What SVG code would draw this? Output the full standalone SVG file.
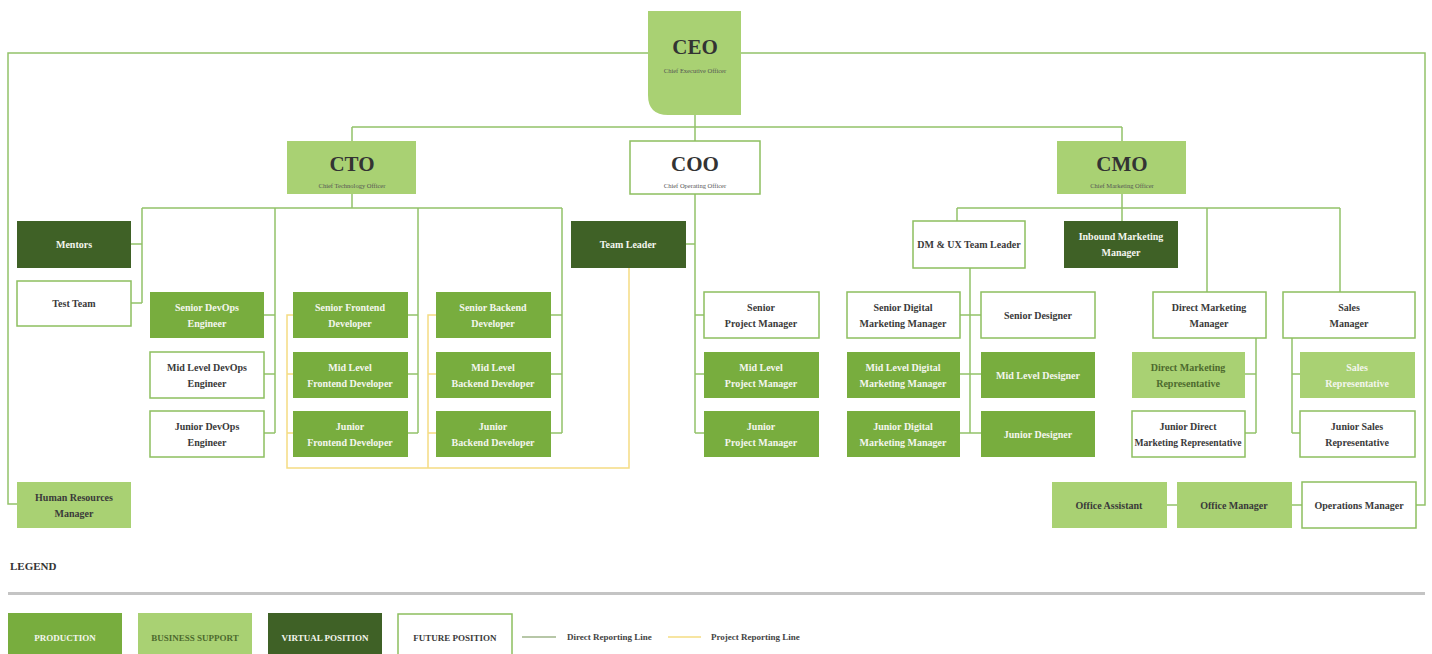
<svg xmlns="http://www.w3.org/2000/svg" width="1432" height="654" viewBox="0 0 1432 654">
<defs>
<style>
text{font-family:"Liberation Serif","DejaVu Serif",serif;text-anchor:middle;font-weight:bold;font-size:10px}
.prod{fill:#78ad3e}
.biz{fill:#a9d173}
.virt{fill:#3f6126}
.fut{fill:#ffffff;stroke:#8dbf5f;stroke-width:1.5}
.w{fill:#f4f6ee}
.d{fill:#3a3a3a}
.dg{fill:#4d6a2e}
.big{font-size:21px;fill:#333}
.sub{font-size:6.5px;font-weight:normal;fill:#555}
.dir{fill:none;stroke:#93c26a;stroke-width:1.5}
.proj{fill:none;stroke:#f5dc82;stroke-width:1.5}
.leg{font-size:9px}
.legl{font-size:9px;text-anchor:start;fill:#444}
</style>
</defs>
<rect width="1432" height="654" fill="#ffffff"/>

<g id="connectors">
<path class="dir" d="M648,53 H8 V504 H17"/>
<path class="dir" d="M741,53 H1425 V505 H1416"/>
<path class="dir" d="M695,115 V141 M352,127 H1122 M352,127 V141 M1122,127 V141"/>
<path class="dir" d="M352,194 V208 M142,208 H562 M142,208 V303 M131,244 H142 M131,303 H142"/>
<path class="dir" d="M275,208 V433 M264,315 H275 M264,374 H275 M264,433 H275"/>
<path class="dir" d="M418,208 V433 M408,315 H418 M408,374 H418 M408,433 H418"/>
<path class="dir" d="M562,208 V433 M551,315 H562 M551,374 H562 M551,433 H562"/>
<path class="dir" d="M695,194 V433 M686,244 H695 M695,315 H704 M695,374 H704 M695,433 H704"/>
<path class="dir" d="M1122,194 V221 M957,208 H1340 M957,208 V221 M1207,208 V292 M1340,208 V292"/>
<path class="dir" d="M970,268 V433 M960,315 H981 M960,374 H981 M960,433 H981"/>
<path class="dir" d="M1256,338 V433 M1245,374 H1256 M1245,433 H1256"/>
<path class="dir" d="M1292,338 V433 M1292,374 H1300 M1292,433 H1300"/>
<path class="dir" d="M1167,505 H1177 M1292,505 H1302"/>
<path class="proj" d="M293,315 H287 V468 H629 V268 M287,374 H293 M287,433 H293"/>
<path class="proj" d="M436,315 H428 V468 M428,374 H436 M428,433 H436"/>
</g>

<g id="ceo">
<path class="biz" d="M648,11 H741 V115 H668 Q648,115 648,95 Z"/>
<text class="big" x="695" y="54">CEO</text>
<text class="sub" x="695" y="73">Chief Executive Officer</text>
</g>
<g id="cto">
<rect class="biz" x="287" y="141" width="129" height="53"/>
<text class="big" x="352" y="171">CTO</text>
<text class="sub" x="352" y="188">Chief Technology Officer</text>
</g>
<g id="coo">
<rect class="fut" x="630" y="141" width="130" height="53"/>
<text class="big" x="695" y="171">COO</text>
<text class="sub" x="695" y="188">Chief Operating Officer</text>
</g>
<g id="cmo">
<rect class="biz" x="1057" y="141" width="129" height="53"/>
<text class="big" x="1122" y="171">CMO</text>
<text class="sub" x="1122" y="188">Chief Marketing Officer</text>
</g>

<g id="mentors"><rect class="virt" x="17" y="221" width="114" height="47"/><text class="w" x="74" y="248">Mentors</text></g>
<g id="test-team"><rect class="fut" x="17" y="281" width="114" height="45"/><text class="d" x="74" y="307">Test Team</text></g>

<g id="senior-devops"><rect class="prod" x="150" y="292" width="114" height="46"/><text class="w" x="207" y="311">Senior DevOps</text><text class="w" x="207" y="327">Engineer</text></g>
<g id="mid-devops"><rect class="fut" x="150" y="352" width="114" height="46"/><text class="d" x="207" y="371">Mid Level DevOps</text><text class="d" x="207" y="387">Engineer</text></g>
<g id="junior-devops"><rect class="fut" x="150" y="411" width="114" height="46"/><text class="d" x="207" y="430">Junior DevOps</text><text class="d" x="207" y="446">Engineer</text></g>

<g id="senior-frontend"><rect class="prod" x="293" y="292" width="115" height="46"/><text class="w" x="350" y="311">Senior Frontend</text><text class="w" x="350" y="327">Developer</text></g>
<g id="mid-frontend"><rect class="prod" x="293" y="352" width="115" height="46"/><text class="w" x="350" y="371">Mid Level</text><text class="w" x="350" y="387">Frontend Developer</text></g>
<g id="junior-frontend"><rect class="prod" x="293" y="411" width="115" height="46"/><text class="w" x="350" y="430">Junior</text><text class="w" x="350" y="446">Frontend Developer</text></g>

<g id="senior-backend"><rect class="prod" x="436" y="292" width="115" height="46"/><text class="w" x="493" y="311">Senior Backend</text><text class="w" x="493" y="327">Developer</text></g>
<g id="mid-backend"><rect class="prod" x="436" y="352" width="115" height="46"/><text class="w" x="493" y="371">Mid Level</text><text class="w" x="493" y="387">Backend Developer</text></g>
<g id="junior-backend"><rect class="prod" x="436" y="411" width="115" height="46"/><text class="w" x="493" y="430">Junior</text><text class="w" x="493" y="446">Backend Developer</text></g>

<g id="team-leader"><rect class="virt" x="571" y="221" width="115" height="47"/><text class="w" x="628" y="248">Team Leader</text></g>

<g id="senior-pm"><rect class="fut" x="704" y="292" width="115" height="46"/><text class="d" x="761" y="311">Senior</text><text class="d" x="761" y="327">Project Manager</text></g>
<g id="mid-pm"><rect class="prod" x="704" y="352" width="115" height="46"/><text class="w" x="761" y="371">Mid Level</text><text class="w" x="761" y="387">Project Manager</text></g>
<g id="junior-pm"><rect class="prod" x="704" y="411" width="115" height="46"/><text class="w" x="761" y="430">Junior</text><text class="w" x="761" y="446">Project Manager</text></g>

<g id="dm-ux-leader"><rect class="fut" x="913" y="221" width="112" height="47"/><text class="d" x="969" y="248">DM &amp; UX Team Leader</text></g>
<g id="inbound"><rect class="virt" x="1064" y="221" width="114" height="47"/><text class="w" x="1121" y="240">Inbound Marketing</text><text class="w" x="1121" y="256">Manager</text></g>

<g id="senior-dmm"><rect class="fut" x="847" y="292" width="113" height="46"/><text class="d" x="903" y="311">Senior Digital</text><text class="d" x="903" y="327">Marketing Manager</text></g>
<g id="mid-dmm"><rect class="prod" x="847" y="352" width="113" height="46"/><text class="w" x="903" y="371">Mid Level Digital</text><text class="w" x="903" y="387">Marketing Manager</text></g>
<g id="junior-dmm"><rect class="prod" x="847" y="411" width="113" height="46"/><text class="w" x="903" y="430">Junior Digital</text><text class="w" x="903" y="446">Marketing Manager</text></g>

<g id="senior-designer"><rect class="fut" x="981" y="292" width="114" height="46"/><text class="d" x="1038" y="319">Senior Designer</text></g>
<g id="mid-designer"><rect class="prod" x="981" y="352" width="114" height="46"/><text class="w" x="1038" y="379">Mid Level Designer</text></g>
<g id="junior-designer"><rect class="prod" x="981" y="411" width="114" height="46"/><text class="w" x="1038" y="438">Junior Designer</text></g>

<g id="direct-mm"><rect class="fut" x="1153" y="292" width="113" height="46"/><text class="d" x="1209" y="311">Direct Marketing</text><text class="d" x="1209" y="327">Manager</text></g>
<g id="direct-rep"><rect class="biz" x="1132" y="352" width="113" height="46"/><text class="dg" x="1188" y="371">Direct Marketing</text><text class="dg" x="1188" y="387">Representative</text></g>
<g id="junior-direct-rep"><rect class="fut" x="1132" y="411" width="113" height="46"/><text class="d" x="1188" y="430">Junior Direct</text><text class="d" x="1188" y="446" style="font-size:9.6px">Marketing Representative</text></g>

<g id="sales-manager"><rect class="fut" x="1283" y="292" width="132" height="46"/><text class="d" x="1349" y="311">Sales</text><text class="d" x="1349" y="327">Manager</text></g>
<g id="sales-rep"><rect class="biz" x="1300" y="352" width="115" height="46"/><text class="w" x="1357" y="371">Sales</text><text class="w" x="1357" y="387">Representative</text></g>
<g id="junior-sales-rep"><rect class="fut" x="1300" y="411" width="115" height="46"/><text class="d" x="1357" y="430">Junior Sales</text><text class="d" x="1357" y="446">Representative</text></g>

<g id="hr-manager"><rect class="biz" x="17" y="482" width="114" height="46"/><text class="d" x="74" y="501">Human Resources</text><text class="d" x="74" y="517">Manager</text></g>
<g id="office-assistant"><rect class="biz" x="1052" y="482" width="115" height="46"/><text class="d" x="1109" y="509">Office Assistant</text></g>
<g id="office-manager"><rect class="biz" x="1177" y="482" width="115" height="46"/><text class="d" x="1234" y="509">Office Manager</text></g>
<g id="operations-manager"><rect class="fut" x="1302" y="482" width="114" height="46"/><text class="d" x="1359" y="509">Operations Manager</text></g>

<g id="legend">
<text x="10" y="570" style="text-anchor:start;font-size:11px;fill:#333">LEGEND</text>
<rect x="8" y="592" width="1417" height="3" fill="#c4c4c4"/>
<rect class="prod" x="8" y="613" width="114" height="45"/><text class="w leg" x="65" y="641">PRODUCTION</text>
<rect class="biz" x="138" y="613" width="114" height="45"/><text class="dg leg" x="195" y="641">BUSINESS SUPPORT</text>
<rect class="virt" x="268" y="613" width="114" height="45"/><text class="w leg" x="325" y="641">VIRTUAL POSITION</text>
<rect class="fut" x="398" y="614" width="114" height="45"/><text class="d leg" x="455" y="641">FUTURE POSITION</text>
<line x1="522" y1="637" x2="556" y2="637" stroke="#9fb58a" stroke-width="1.5"/>
<text class="legl" x="567" y="640">Direct Reporting Line</text>
<line x1="668" y1="637" x2="701" y2="637" stroke="#f5dc82" stroke-width="1.5"/>
<text class="legl" x="711" y="640">Project Reporting Line</text>
</g>
</svg>
